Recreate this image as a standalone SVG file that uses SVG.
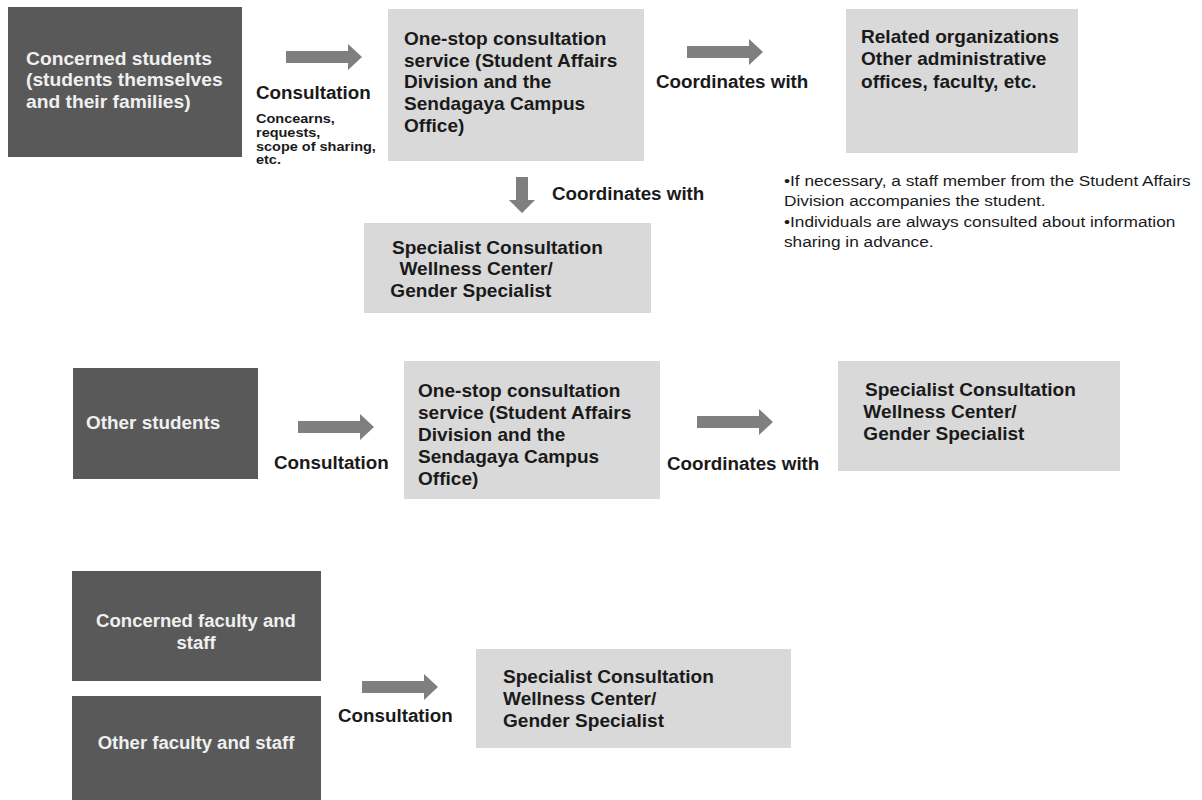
<svg xmlns="http://www.w3.org/2000/svg" xmlns:xlink="http://www.w3.org/1999/xlink" width="1202" height="800" viewBox="0 0 1202 800">
<style>
.dark{fill:#595959}
.light{fill:#d9d9d9}
.arrow{fill:#7f7f7f}
text{font-family:"Liberation Sans",Arial,sans-serif;font-weight:bold}
.tw{fill:#f0f0f0;font-size:17.5px}
.tb{fill:#1a1a1a;font-size:17.5px}
.lbl{fill:#1a1a1a;font-size:18.8px}
.small{fill:#1a1a1a;font-size:12.5px}
.note{fill:#1a1a1a;font-size:15px;font-weight:normal}
</style>
<defs>
<path id="arrowR" d="M0,-6 H62 V-13 L76,0 L62,13 V6 H0 Z"/>
</defs>
<rect width="1202" height="800" fill="#ffffff"/>

<g id="concerned-students">
<rect class="dark" x="8" y="7" width="234" height="150" fill="#5e5e5e"/>
<text class="tw" transform="translate(26 65) scale(1.1 1)"><tspan x="0" y="0">Concerned students</tspan><tspan x="0" y="21.5">(students themselves</tspan><tspan x="0" y="43">and their families)</tspan></text>
</g>

<g id="onestop-1">
<rect class="light" x="388" y="9" width="256" height="152"/>
<text class="tb" transform="translate(404 45) scale(1.09 1)"><tspan x="0" y="0">One-stop consultation</tspan><tspan x="0" y="21.7">service (Student Affairs</tspan><tspan x="0" y="43.4">Division and the</tspan><tspan x="0" y="65.1">Sendagaya Campus</tspan><tspan x="0" y="86.8">Office)</tspan></text>
</g>

<g id="related-orgs">
<rect class="light" x="846" y="9" width="232" height="144"/>
<text class="tb" transform="translate(861 43) scale(1.09 1)"><tspan x="0" y="0">Related organizations</tspan><tspan x="0" y="22.5">Other administrative</tspan><tspan x="0" y="45">offices, faculty, etc.</tspan></text>
</g>

<g id="note">
<text class="note" transform="translate(784 186) scale(1.15 1)"><tspan x="0" y="0">•If necessary, a staff member from the Student Affairs</tspan><tspan x="0" y="20.3">Division accompanies the student.</tspan><tspan x="0" y="40.6">•Individuals are always consulted about information</tspan><tspan x="0" y="60.9">sharing in advance.</tspan></text>
</g>

<g id="specialist-1">
<rect class="light" x="364" y="223" width="287" height="90"/>
<text class="tb" transform="translate(392 254) scale(1.09 1)"><tspan x="0" y="0">Specialist Consultation</tspan><tspan x="2" y="21.5"> Wellness Center/</tspan><tspan x="-1.5" y="43">Gender Specialist</tspan></text>
</g>

<g id="other-students">
<rect class="dark" x="73" y="368" width="185" height="111"/>
<text class="tw" transform="translate(86 429) scale(1.08 1)"><tspan x="0" y="0">Other students</tspan></text>
</g>

<g id="onestop-2">
<rect class="light" x="404" y="361" width="256" height="138"/>
<text class="tb" transform="translate(418 397) scale(1.09 1)"><tspan x="0" y="0">One-stop consultation</tspan><tspan x="0" y="22">service (Student Affairs</tspan><tspan x="0" y="44">Division and the</tspan><tspan x="0" y="66.5">Sendagaya Campus</tspan><tspan x="0" y="88.5">Office)</tspan></text>
</g>

<g id="specialist-2">
<rect class="light" x="838" y="361" width="282" height="110"/>
<text class="tb" transform="translate(865 396) scale(1.09 1)"><tspan x="0" y="0">Specialist Consultation</tspan><tspan x="-1.5" y="22">Wellness Center/</tspan><tspan x="-1.5" y="44">Gender Specialist</tspan></text>
</g>

<g id="concerned-faculty">
<rect class="dark" x="72" y="571" width="249" height="110"/>
<text class="tw" text-anchor="middle" transform="translate(196 627) scale(1.06 1)"><tspan x="0" y="0">Concerned faculty and</tspan><tspan x="0" y="22">staff</tspan></text>
</g>

<g id="other-faculty">
<rect class="dark" x="72" y="696" width="249" height="110"/>
<text class="tw" text-anchor="middle" transform="translate(196 749) scale(1.06 1)"><tspan x="0" y="0">Other faculty and staff</tspan></text>
</g>

<g id="specialist-3">
<rect class="light" x="476" y="649" width="315" height="99"/>
<text class="tb" transform="translate(503 683) scale(1.09 1)"><tspan x="0" y="0">Specialist Consultation</tspan><tspan x="0" y="22">Wellness Center/</tspan><tspan x="0" y="44">Gender Specialist</tspan></text>
</g>

<g id="connectors">
<use xlink:href="#arrowR" href="#arrowR" class="arrow" x="286" y="57"/>
<use xlink:href="#arrowR" href="#arrowR" class="arrow" x="687" y="52"/>
<path class="arrow" d="M516,177 H528 V200 H535 L522,213 L509,200 H516 Z"/>
<use xlink:href="#arrowR" href="#arrowR" class="arrow" x="298" y="427"/>
<use xlink:href="#arrowR" href="#arrowR" class="arrow" x="697" y="422"/>
<use xlink:href="#arrowR" href="#arrowR" class="arrow" x="362" y="687"/>
<text class="lbl" x="256" y="99">Consultation</text>
<text class="small" transform="translate(256 123) scale(1.16 1)"><tspan x="0" y="0">Concearns,</tspan><tspan x="0" y="13.8">requests,</tspan><tspan x="0" y="27.6">scope of sharing,</tspan><tspan x="0" y="41.4">etc.</tspan></text>
<text class="lbl" x="656" y="88">Coordinates with</text>
<text class="lbl" x="552" y="200">Coordinates with</text>
<text class="lbl" x="274" y="469">Consultation</text>
<text class="lbl" x="667" y="470">Coordinates with</text>
<text class="lbl" x="338" y="722">Consultation</text>
</g>
</svg>
